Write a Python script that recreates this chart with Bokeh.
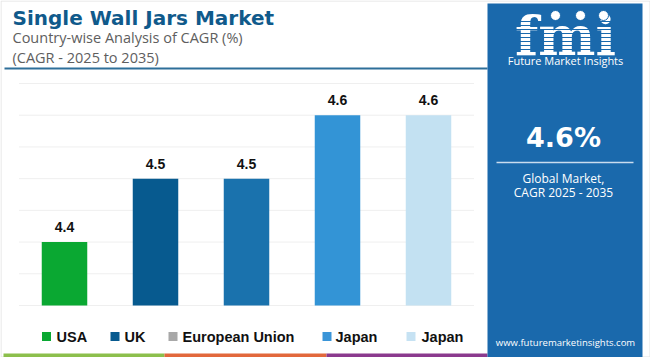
from bokeh.plotting import figure
from bokeh.models import Range1d
from bokeh.core.properties import value
from bokeh.embed import file_html
from bokeh.resources import INLINE

# ---- data ----
countries = ["USA", "UK", "European Union", "Japan", "Japan"]
cagr = [4.4, 4.5, 4.5, 4.6, 4.6]
bar_colors = ["#0aa832", "#075a8f", "#1a72ad", "#3394d6", "#c3e1f2"]
legend_colors = ["#0aa832", "#075a8f", "#a8a8a8", "#3a95d8", "#c6e2f3"]
y_ticks = [4.30, 4.35, 4.40, 4.45, 4.50, 4.55, 4.60, 4.65]
title = "Single Wall Jars Market"
subtitle1 = "Country-wise Analysis of CAGR (%)"
subtitle2 = "(CAGR - 2025 to 2035)"
global_cagr = "4.6%"

W, H = 650, 357
# frame geometry (pixels) for the bar area
cx0, cstep = 64.0, 91.0          # first category centre and spacing
ybase_px, ytop_px = 305.0, 83.0  # pixel rows of 4.30 and 4.65
ymin, ymax = y_ticks[0], y_ticks[-1]
k = (ymax - ymin) / (ybase_px - ytop_px)

p = figure(width=W, height=H, output_backend="svg", toolbar_location=None,
           x_range=Range1d(-cx0 / cstep, (W - cx0) / cstep),
           y_range=Range1d(ymin - (H - ybase_px) * k, ymax + ytop_px * k),
           min_border=0, outline_line_color=None)
p.extra_x_ranges = {"px": Range1d(0, W)}
p.extra_y_ranges = {"px": Range1d(H, 0)}
p.axis.visible = False
p.grid.visible = False
p.background_fill_color = "white"
p.border_fill_color = "white"

PX = dict(x_range_name="px", y_range_name="px")
MID = dict(text_baseline="middle")

# outer light border
p.quad(left=[0.5], right=[W - 0.5], top=[0.5], bottom=[H - 0.5], fill_color=None,
       line_color="#e2e2e2", line_width=1, **PX)

# grid lines
idx = list(range(len(countries)))
p.segment(x0=[-0.5] * len(y_ticks), x1=[len(countries) - 0.5] * len(y_ticks),
          y0=y_ticks, y1=y_ticks, line_color="#efefef", line_width=1)

# bars
p.vbar(x=idx, top=cagr, bottom=ymin, width=0.5, fill_color=bar_colors, line_color=None)
p.text(x=idx, y=cagr, text=[f"{v:.1f}" for v in cagr], text_align="center",
       y_offset=-15, text_font=value("Liberation Sans"),
       text_font_style="bold", text_font_size="14px", text_color="#111111", **MID)

# title block
p.text(x=[12], y=[17], text=[title], text_font=value("DejaVu Sans"), text_font_style="bold",
       text_font_size="20px", text_color="#105a8b", **MID, **PX)
p.text(x=[12, 12], y=[37, 57], text=[subtitle1, subtitle2], text_font=value("Open Sans"),
       text_font_size="14.5px", text_color="#5e5e5e", **MID, **PX)
p.segment(x0=[4], x1=[487], y0=[68], y1=[68], line_color="#2e6f99", line_width=2, **PX)

# legend
leg_sq = [46, 114.5, 172.5, 326.5, 410.5]
leg_tx = [56, 124, 182, 335, 421]
p.rect(x=leg_sq, y=[336] * 5, width=9, height=9, fill_color=legend_colors,
       line_color=None, **PX)
p.text(x=leg_tx, y=[336] * 5, text=countries, text_font=value("Liberation Sans"),
       text_font_style="bold", text_font_size="14.5px", text_color="#111111", **MID, **PX)

# bottom stripes
p.quad(left=[3, 164, 326], right=[164, 326, 487], top=[353] * 3, bottom=[357] * 3,
       fill_color=["#8cbf4c", "#e2683c", "#8b3a8e"], line_color=None, **PX)

# right panel
p.quad(left=[487], right=[642], top=[3], bottom=[357], fill_color="#1a69ac",
       line_color=None, **PX)
# logo
p.text(x=[565], y=[35], text=["fmi"], text_font=value("DejaVu Serif"), text_font_style="bold",
       text_font_size="54px", text_color="white", text_align="center", **MID, **PX)
stripe_y = [21, 25, 29, 33, 37, 41, 45, 49]
p.segment(x0=[505] * len(stripe_y), x1=[625] * len(stripe_y), y0=stripe_y, y1=stripe_y,
          line_color="#1a69ac", line_width=1.2, **PX)
p.scatter(x=[555, 580, 603], y=[15, 15, 15], size=10, fill_color="white",
          line_color="#1a69ac", line_width=1, **PX)
p.text(x=[565], y=[60], text=["Future Market Insights"], text_font=value("Open Sans"),
       text_font_size="11px", text_color="white", text_align="center", **MID, **PX)

p.text(x=[563], y=[137], text=[global_cagr], text_font=value("DejaVu Sans"),
       text_font_style="bold", text_font_size="27px", text_color="white",
       text_align="center", **MID, **PX)
p.segment(x0=[496], x1=[633], y0=[162], y1=[162], line_color="#c9dcee", line_width=1.5, **PX)
p.text(x=[563, 563], y=[178, 192], text=["Global Market,", "CAGR 2025 - 2035"],
       text_font=value("Open Sans"), text_font_size="12px", text_color="white",
       text_align="center", **MID, **PX)
p.text(x=[565], y=[342], text=["www.futuremarketinsights.com"], text_font=value("Open Sans"),
       text_font_size="9.5px", text_color="white", text_align="center", **MID, **PX)

open("out.html", "w").write(file_html(p, INLINE))
